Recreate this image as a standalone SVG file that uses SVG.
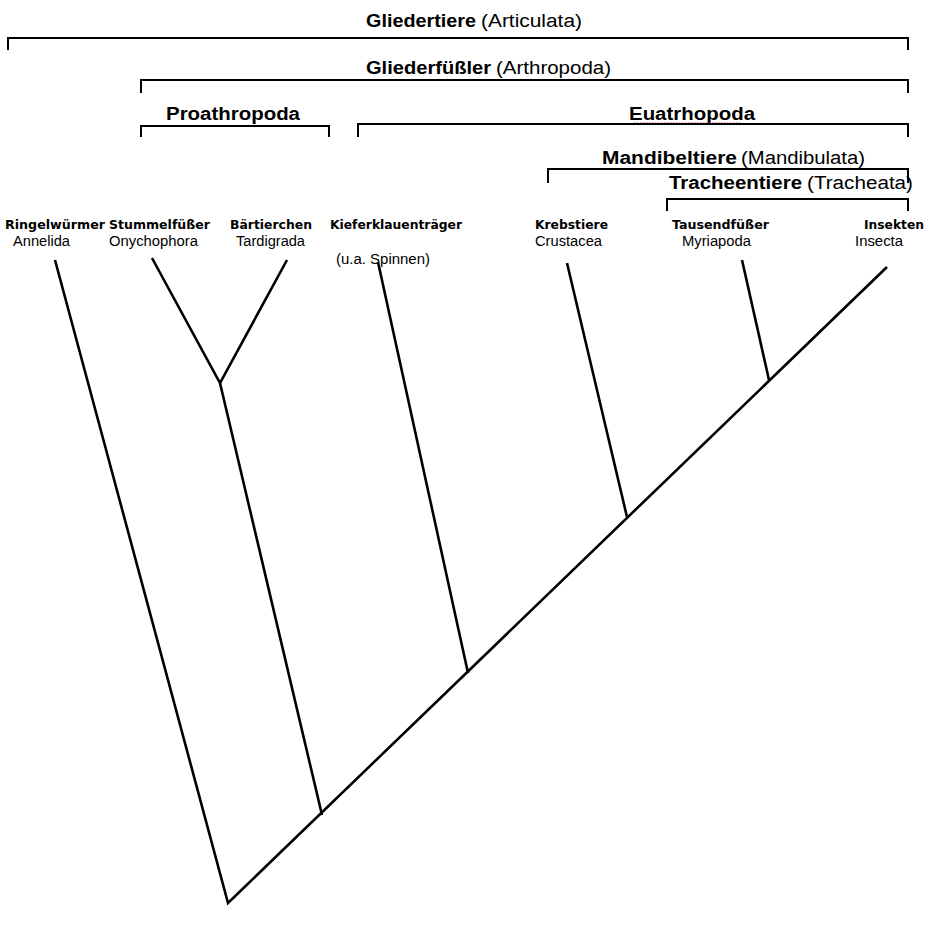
<svg xmlns="http://www.w3.org/2000/svg" width="931" height="927" viewBox="0 0 931 927">
<style>
.h{font-family:"Liberation Sans",Arial,sans-serif;font-size:18px;fill:#000}
.hb{font-weight:bold}
.lb{font-family:"DejaVu Sans","Liberation Sans",sans-serif;font-size:12px;font-weight:bold;fill:#000}
.ln{font-family:"Liberation Sans",Arial,sans-serif;font-size:14px;fill:#000}
.br{fill:none;stroke:#000;stroke-width:2}
.tr{fill:none;stroke:#000;stroke-width:2.6;stroke-linecap:butt;stroke-linejoin:miter}
</style>
<rect width="931" height="927" fill="#fff"/>
<g id="brackets">
<g id="articulata">
<text class="h hb" x="366" y="27" textLength="110" lengthAdjust="spacingAndGlyphs">Gliedertiere</text>
<text class="h" x="481" y="27" textLength="101" lengthAdjust="spacingAndGlyphs">(Articulata)</text>
<path class="br" d="M8,50V38H908V50"/>
</g>
<g id="arthropoda">
<text class="h hb" x="366" y="74" textLength="125" lengthAdjust="spacingAndGlyphs">Gliederfüßler</text>
<text class="h" x="496" y="74" textLength="115" lengthAdjust="spacingAndGlyphs">(Arthropoda)</text>
<path class="br" d="M141,93V80H908V93"/>
</g>
<g id="proathropoda">
<text class="h hb" x="166" y="120" textLength="134" lengthAdjust="spacingAndGlyphs">Proathropoda</text>
<path class="br" d="M141,137V126H329V137"/>
</g>
<g id="euatrhopoda">
<text class="h hb" x="629" y="120" textLength="126" lengthAdjust="spacingAndGlyphs">Euatrhopoda</text>
<path d="M634,123h108" stroke="#e03030" stroke-width="1.2" stroke-dasharray="1.5,1.5" fill="none"/>
<path class="br" d="M358,137V124H908V137"/>
</g>
<g id="mandibulata">
<text class="h hb" x="602" y="164" textLength="135" lengthAdjust="spacingAndGlyphs">Mandibeltiere</text>
<text class="h" x="741" y="164" textLength="124" lengthAdjust="spacingAndGlyphs">(Mandibulata)</text>
<path class="br" d="M548,183V169H908V183"/>
</g>
<g id="tracheata">
<text class="h hb" x="669" y="189" textLength="133" lengthAdjust="spacingAndGlyphs">Tracheentiere</text>
<text class="h" x="807" y="189" textLength="106" lengthAdjust="spacingAndGlyphs">(Tracheata)</text>
<path class="br" d="M667,211V199H908V211"/>
</g>
</g>
<g id="leaves">
<g id="annelida">
<text class="lb" x="5" y="229" textLength="100" lengthAdjust="spacingAndGlyphs">Ringelwürmer</text>
<text class="ln" x="13" y="246" textLength="57" lengthAdjust="spacingAndGlyphs">Annelida</text>
</g>
<g id="onychophora">
<text class="lb" x="109" y="229" textLength="101" lengthAdjust="spacingAndGlyphs">Stummelfüßer</text>
<text class="ln" x="109" y="246" textLength="89" lengthAdjust="spacingAndGlyphs">Onychophora</text>
</g>
<g id="tardigrada">
<text class="lb" x="230" y="229" textLength="82" lengthAdjust="spacingAndGlyphs">Bärtierchen</text>
<text class="ln" x="236" y="246" textLength="69" lengthAdjust="spacingAndGlyphs">Tardigrada</text>
</g>
<g id="chelicerata">
<text class="lb" x="330" y="229" textLength="132" lengthAdjust="spacingAndGlyphs">Kieferklauenträger</text>
<text class="ln" x="336" y="264" textLength="94" lengthAdjust="spacingAndGlyphs">(u.a. Spinnen)</text>
</g>
<g id="crustacea">
<text class="lb" x="535" y="229" textLength="73" lengthAdjust="spacingAndGlyphs">Krebstiere</text>
<text class="ln" x="535" y="246" textLength="67" lengthAdjust="spacingAndGlyphs">Crustacea</text>
</g>
<g id="myriapoda">
<text class="lb" x="672" y="229" textLength="97" lengthAdjust="spacingAndGlyphs">Tausendfüßer</text>
<text class="ln" x="682" y="246" textLength="69" lengthAdjust="spacingAndGlyphs">Myriapoda</text>
</g>
<g id="insecta">
<text class="lb" x="864" y="229" textLength="60" lengthAdjust="spacingAndGlyphs">Insekten</text>
<text class="ln" x="855" y="246" textLength="48" lengthAdjust="spacingAndGlyphs">Insecta</text>
</g>
</g>
<g id="connectors">
<path class="tr" d="M55,260L228,903L887,267"/>
<path class="tr" d="M152,258L220,383L287,260"/>
<path class="tr" d="M220,383L322,815"/>
<path class="tr" d="M378,262L468,673"/>
<path class="tr" d="M567,263L627,517"/>
<path class="tr" d="M742,260L769,380"/>
</g>
</svg>
